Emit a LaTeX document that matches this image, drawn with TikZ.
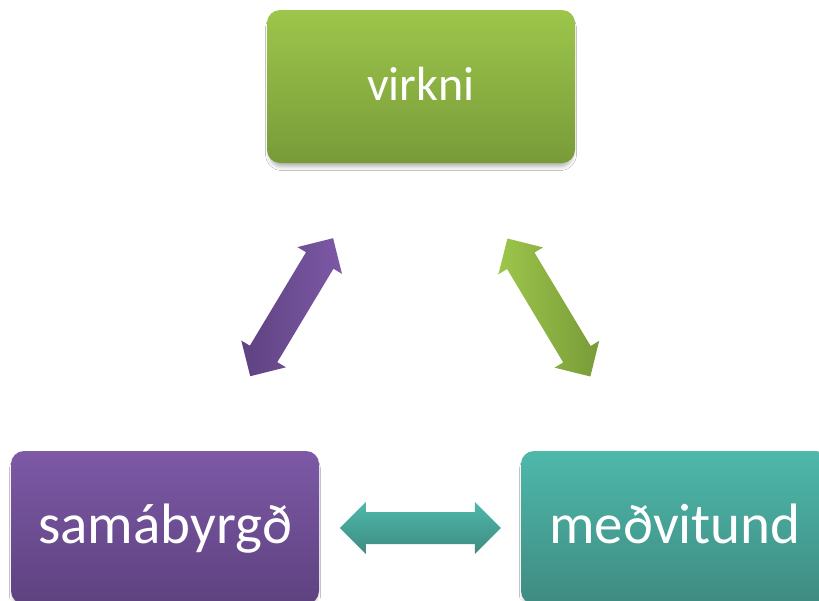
\documentclass[tikz,border=0pt]{standalone}
\usepackage{fontspec}
\setmainfont{Carlito}
\usetikzlibrary{shadows.blur}
\definecolor{grnT}{HTML}{9DC64B}
\definecolor{grnB}{HTML}{789B39}
\definecolor{purT}{HTML}{7D59A6}
\definecolor{purB}{HTML}{5E4280}
\definecolor{tealT}{HTML}{4EB8AB}
\definecolor{tealB}{HTML}{3F8B81}
\begin{document}
\begin{tikzpicture}[x=1pt,y=-1pt,
  box/.style={rounded corners=13pt, minimum width=308pt, minimum height=153pt,
    inner sep=0pt, text=white, text depth=0pt,
    blur shadow={shadow xshift=0pt, shadow yshift=-5pt, shadow scale=0.985, shadow blur radius=4pt, shadow opacity=30}},
  topfont/.style={font=\fontsize{48}{58}\selectfont, text height=28pt},
  botfont/.style={font=\fontsize{57}{68}\selectfont, text height=31pt},
  arrowshadow/.style={blur shadow={shadow xshift=1pt, shadow yshift=-4pt, shadow scale=0.97, shadow blur radius=3pt, shadow opacity=30}},
  dblarrow/.pic={
    \path[pic actions] (-80.5,0) -- (-54.5,-26) -- (-54.5,-16) -- (54.5,-16) -- (54.5,-26)
      -- (80.5,0) -- (54.5,26) -- (54.5,16) -- (-54.5,16) -- (-54.5,26) -- cycle;
  }
]
\useasboundingbox (0,0) rectangle (819,600);
\fill[white] (0,0) rectangle (819,600);

\node[box, topfont, top color=grnT, bottom color=grnB] (virkni) at (421,86.5) {virkni};
\node[box, botfont, top color=purT, bottom color=purB] (sama) at (165,527.5) {samábyrgð};
\node[box, botfont, top color=tealT, bottom color=tealB] (medv) at (675,527.5) {meðvitund};

\coordinate (aL) at (291.65,307.2);
\coordinate (aR) at (548.85,307.5);
\coordinate (aB) at (420.3,528);

\pic[arrowshadow, left color=purB, right color=purT, rotate=59] at (aL) {dblarrow};
\pic[arrowshadow, left color=grnT, right color=grnB, rotate=-59] at (aR) {dblarrow};
\pic[arrowshadow, top color=tealT, bottom color=tealB] at (aB) {dblarrow};
\end{tikzpicture}
\end{document}
